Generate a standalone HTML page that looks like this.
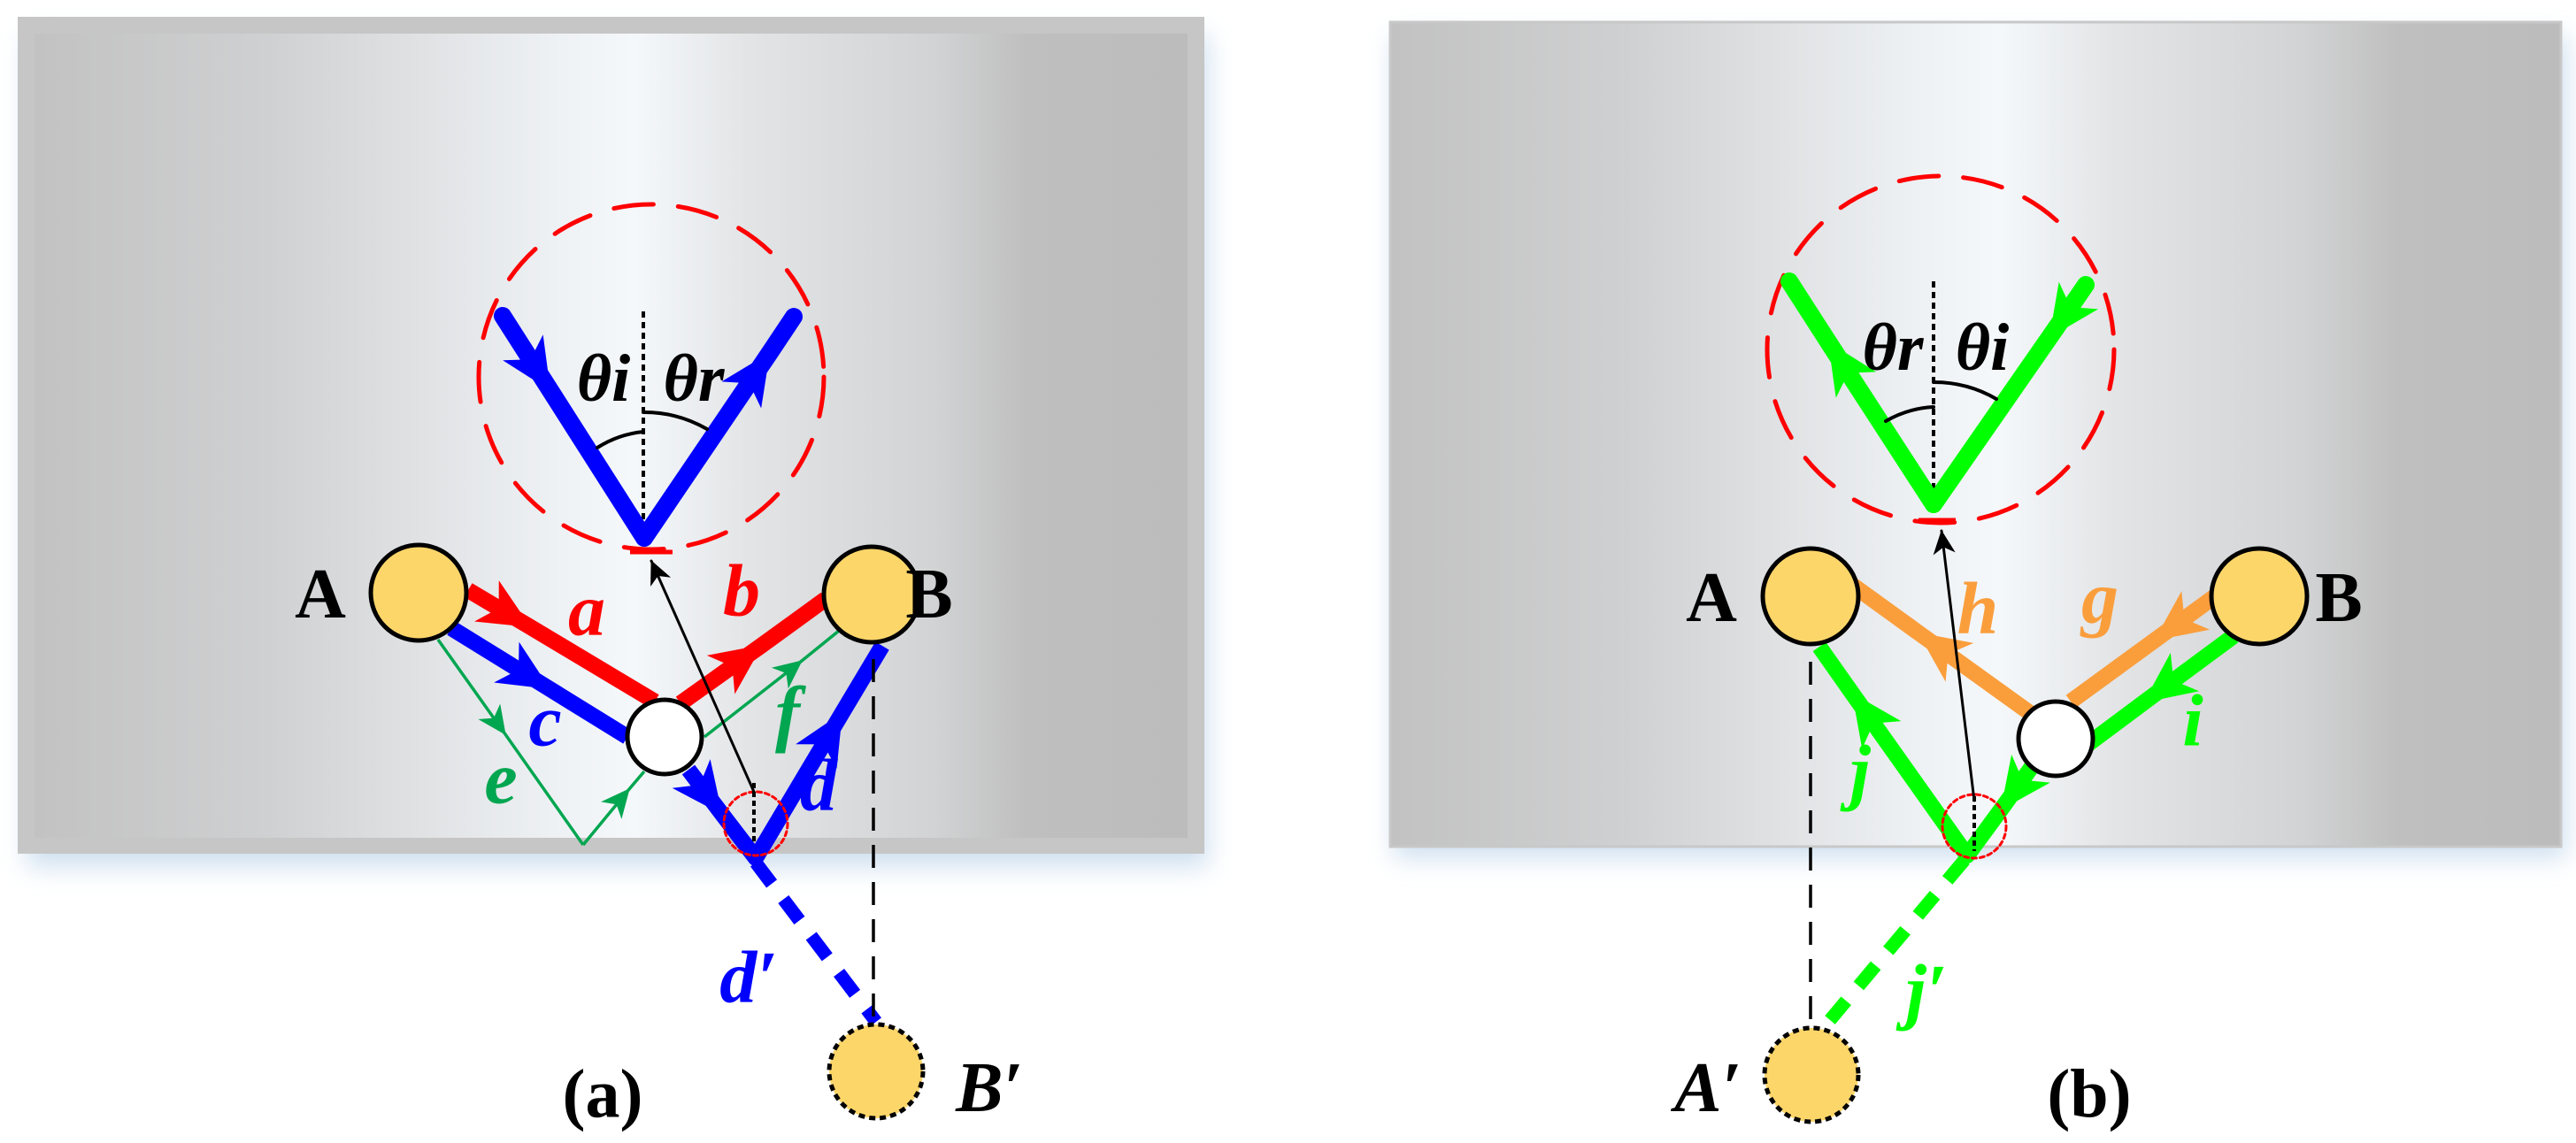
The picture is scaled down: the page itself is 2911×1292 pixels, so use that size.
<!DOCTYPE html>
<html><head><meta charset="utf-8"><style>
html,body{margin:0;padding:0;background:#fff;}
svg{display:block;}
.t{font-family:"Liberation Serif","DejaVu Serif",serif;font-weight:bold;}
</style></head><body>
<svg width="2911" height="1292" viewBox="0 0 2911 1292" xmlns="http://www.w3.org/2000/svg">
<defs>
<linearGradient id="gA" x1="0" x2="1" y1="0" y2="0">
<stop offset="0" stop-color="#c2c2c2"/><stop offset="0.2" stop-color="#cfd0d1"/><stop offset="0.45" stop-color="#eef1f4"/><stop offset="0.52" stop-color="#f5f8fb"/><stop offset="0.62" stop-color="#e2e4e6"/><stop offset="0.78" stop-color="#d2d3d4"/><stop offset="0.86" stop-color="#bfbfbf"/><stop offset="1" stop-color="#bcbcbc"/>
</linearGradient>
<filter id="sh" x="-5%" y="-5%" width="110%" height="120%"><feGaussianBlur stdDeviation="14"/></filter>
<marker id="mB" viewBox="-60 -30 64 60" markerWidth="64" markerHeight="60" refX="0" refY="0" orient="auto" markerUnits="userSpaceOnUse"><path d="M2,0 L-56,-27 L-40,0 L-56,27 Z" fill="#0000ff"/></marker>
<marker id="mR" viewBox="-60 -30 64 60" markerWidth="64" markerHeight="60" refX="0" refY="0" orient="auto" markerUnits="userSpaceOnUse"><path d="M2,0 L-56,-27 L-40,0 L-56,27 Z" fill="#ff0000"/></marker>
<marker id="mL" viewBox="-60 -30 64 60" markerWidth="64" markerHeight="60" refX="0" refY="0" orient="auto" markerUnits="userSpaceOnUse"><path d="M2,0 L-56,-27 L-40,0 L-56,27 Z" fill="#00ff00"/></marker>
<marker id="mO" viewBox="-60 -30 64 60" markerWidth="64" markerHeight="60" refX="0" refY="0" orient="auto" markerUnits="userSpaceOnUse"><path d="M2,0 L-56,-27 L-40,0 L-56,27 Z" fill="#fa9e3c"/></marker>
<marker id="mG" viewBox="-60 -30 64 60" markerWidth="36" markerHeight="34" refX="0" refY="0" orient="auto" markerUnits="userSpaceOnUse"><path d="M2,0 L-56,-27 L-40,0 L-56,27 Z" fill="#00a650"/></marker>
<marker id="mK" viewBox="-60 -30 64 60" markerWidth="30" markerHeight="28" refX="0" refY="0" orient="auto" markerUnits="userSpaceOnUse"><path d="M2,0 L-56,-27 L-40,0 L-56,27 Z" fill="#000"/></marker>
</defs>

<rect x="30" y="40" width="1335" height="940" fill="#cfe0f0" filter="url(#sh)"/>
<rect x="1575" y="40" width="1325" height="930" fill="#cfe0f0" filter="url(#sh)"/>

<rect x="20" y="19" width="1341" height="946" fill="#c6c6c6"/>
<rect x="39" y="38" width="1303" height="909" fill="url(#gA)"/>
<rect x="1571" y="25" width="1323" height="932" fill="url(#gA)" stroke="#c8c8c8" stroke-width="3"/>

<g stroke-linecap="round" fill="none">
<!-- Panel a -->
<circle cx="736" cy="426" r="195" stroke="#ff0000" stroke-width="5" stroke-dasharray="45 28"/>
<line x1="712" y1="624" x2="760" y2="624" stroke="#ff0000" stroke-width="5" stroke-linecap="butt"/>
<line x1="727" y1="352" x2="727" y2="608" stroke="#000" stroke-width="4" stroke-dasharray="7 5" stroke-linecap="butt"/>
<path d="M568,357 L621,440 L728,608" stroke="#0000ff" stroke-width="20" marker-mid="url(#mB)"/>
<path d="M728,608 L869,400 L897,358" stroke="#0000ff" stroke-width="20" marker-mid="url(#mB)"/>
<path d="M675,506 A120,120 0 0 1 727,488" stroke="#000" stroke-width="4"/>
<path d="M727,466 A142,142 0 0 1 799,485" stroke="#000" stroke-width="4"/>

<path d="M495,723 L571,830 L659,955" stroke="#00a650" stroke-width="3.5" stroke-linecap="butt" marker-mid="url(#mG)"/>
<path d="M659,955 L711,892 L728,872" stroke="#00a650" stroke-width="3.5" stroke-linecap="butt" marker-mid="url(#mG)"/>
<path d="M796,833 L906,747 L948,713" stroke="#00a650" stroke-width="3.5" stroke-linecap="butt" marker-mid="url(#mG)"/>

<path d="M529,667 L598,708 L740,793" stroke="#ff0000" stroke-width="18" stroke-linecap="butt" marker-mid="url(#mR)"/>
<path d="M769,795 L860,730 L933,677" stroke="#ff0000" stroke-width="18" stroke-linecap="butt" marker-mid="url(#mR)"/>
<path d="M510,710 L620,778 L709,833" stroke="#0000ff" stroke-width="18" stroke-linecap="butt" marker-mid="url(#mB)"/>
<path d="M778,870 L815,919 L854,970" stroke="#0000ff" stroke-width="18" stroke-linecap="butt" marker-mid="url(#mB)"/>
<path d="M854,970 L951,807 L997,730" stroke="#0000ff" stroke-width="18" stroke-linecap="butt" marker-mid="url(#mB)"/>
<circle cx="854" cy="970" r="9" fill="#0000ff" stroke="none"/>
<line x1="854" y1="975" x2="990" y2="1155" stroke="#0000ff" stroke-width="15" stroke-dasharray="30 22" stroke-linecap="butt"/>
<line x1="987" y1="745" x2="987" y2="1150" stroke="#000" stroke-width="3.5" stroke-dasharray="26 16" stroke-linecap="butt"/>
<circle cx="854" cy="931" r="36" stroke="#ff0000" stroke-width="3" stroke-dasharray="5 4"/>
<line x1="852" y1="885" x2="852" y2="955" stroke="#000" stroke-width="4" stroke-dasharray="6 4" stroke-linecap="butt"/>
<line x1="852" y1="895" x2="736" y2="634" stroke="#000" stroke-width="3" marker-end="url(#mK)"/>

<!-- Panel b -->
<circle cx="2193" cy="395" r="196" stroke="#ff0000" stroke-width="5" stroke-dasharray="45 28"/>
<line x1="2168" y1="588" x2="2210" y2="588" stroke="#ff0000" stroke-width="5" stroke-linecap="butt"/>
<line x1="2185" y1="318" x2="2185" y2="570" stroke="#000" stroke-width="4" stroke-dasharray="7 5" stroke-linecap="butt"/>
<path d="M2185,570 L2067,388 L2022,318" stroke="#00ff00" stroke-width="20" marker-mid="url(#mL)"/>
<path d="M2357,322 L2317,380 L2185,570" stroke="#00ff00" stroke-width="20" marker-mid="url(#mL)"/>
<path d="M2131,476 A120,120 0 0 1 2185,460" stroke="#000" stroke-width="4"/>
<path d="M2185,432 A140,140 0 0 1 2256,451" stroke="#000" stroke-width="4"/>

<path d="M2294,806 L2169,716 L2093,661" stroke="#fa9e3c" stroke-width="18" stroke-linecap="butt" marker-mid="url(#mO)"/>
<path d="M2503,674 L2436,723 L2340,793" stroke="#fa9e3c" stroke-width="18" stroke-linecap="butt" marker-mid="url(#mO)"/>
<path d="M2524,719 L2424,793 L2357,843" stroke="#00ff00" stroke-width="18" stroke-linecap="butt" marker-mid="url(#mL)"/>
<path d="M2298,864 L2262,914 L2223,967" stroke="#00ff00" stroke-width="18" stroke-linecap="butt" marker-mid="url(#mL)"/>
<path d="M2223,967 L2094,785 L2056,731" stroke="#00ff00" stroke-width="18" stroke-linecap="butt" marker-mid="url(#mL)"/>
<circle cx="2223" cy="967" r="9" fill="#00ff00" stroke="none"/>
<line x1="2220" y1="972" x2="2068" y2="1153" stroke="#00ff00" stroke-width="15" stroke-dasharray="30 22" stroke-linecap="butt"/>
<line x1="2046" y1="748" x2="2046" y2="1157" stroke="#000" stroke-width="3.5" stroke-dasharray="26 16" stroke-linecap="butt"/>
<circle cx="2231" cy="934" r="36" stroke="#ff0000" stroke-width="3" stroke-dasharray="5 4"/>
<line x1="2231" y1="900" x2="2231" y2="962" stroke="#000" stroke-width="4" stroke-dasharray="6 4" stroke-linecap="butt"/>
<line x1="2231" y1="905" x2="2194" y2="600" stroke="#000" stroke-width="3" marker-end="url(#mK)"/>
</g>

<g stroke="#000" stroke-width="5">
<circle cx="473" cy="670" r="54" fill="#fdd66a"/>
<circle cx="985" cy="672" r="54" fill="#fdd66a"/>
<circle cx="751" cy="833" r="42" fill="#fff"/>
<circle cx="2046" cy="674" r="54" fill="#fdd66a"/>
<circle cx="2553" cy="674" r="54" fill="#fdd66a"/>
<circle cx="2323" cy="835" r="42" fill="#fff"/>
<circle cx="990" cy="1211" r="53" fill="#fdd66a" stroke-dasharray="7 5"/>
<circle cx="2047" cy="1215" r="53" fill="#fdd66a" stroke-dasharray="7 5"/>
</g>

<g class="t" text-anchor="middle" dominant-baseline="central" font-family="Liberation Serif, DejaVu Serif, serif" font-weight="bold">
<text x="682" y="428" font-size="76" font-style="italic" fill="#000">θi</text>
<text x="784" y="428" font-size="76" font-style="italic" fill="#000">θr</text>
<text x="2139" y="393" font-size="76" font-style="italic" fill="#000">θr</text>
<text x="2240" y="393" font-size="76" font-style="italic" fill="#000">θi</text>

<text x="362" y="672" font-size="80" fill="#000">A</text>
<text x="1050" y="672" font-size="80" fill="#000">B</text>
<text x="1934" y="676" font-size="80" fill="#000">A</text>
<text x="2643" y="676" font-size="80" fill="#000">B</text>

<text x="663" y="690" font-size="84" font-style="italic" fill="#ff0000">a</text>
<text x="838" y="668" font-size="84" font-style="italic" fill="#ff0000">b</text>
<text x="616" y="815" font-size="84" font-style="italic" fill="#0000ff">c</text>
<text x="925" y="888" font-size="84" font-style="italic" fill="#0000ff">d</text>
<text x="566" y="880" font-size="84" font-style="italic" fill="#00a650">e</text>
<text x="890" y="806" font-size="84" font-style="italic" fill="#00a650">f</text>
<text x="846" y="1105" font-size="84" font-style="italic" fill="#0000ff">d′</text>
<text x="1118" y="1230" font-size="80" font-style="italic" fill="#000">B′</text>
<text x="681" y="1236" font-size="78" fill="#000">(a)</text>

<text x="2235" y="688" font-size="84" font-style="italic" fill="#fa9e3c">h</text>
<text x="2373" y="676" font-size="84" font-style="italic" fill="#fa9e3c">g</text>
<text x="2478" y="815" font-size="84" font-style="italic" fill="#00ff00">i</text>
<text x="2102" y="872" font-size="84" font-style="italic" fill="#00ff00">j</text>
<text x="2177" y="1120" font-size="84" font-style="italic" fill="#00ff00">j′</text>
<text x="1930" y="1230" font-size="80" font-style="italic" fill="#000">A′</text>
<text x="2361" y="1236" font-size="78" fill="#000">(b)</text>
</g>
</svg>
</body></html>
